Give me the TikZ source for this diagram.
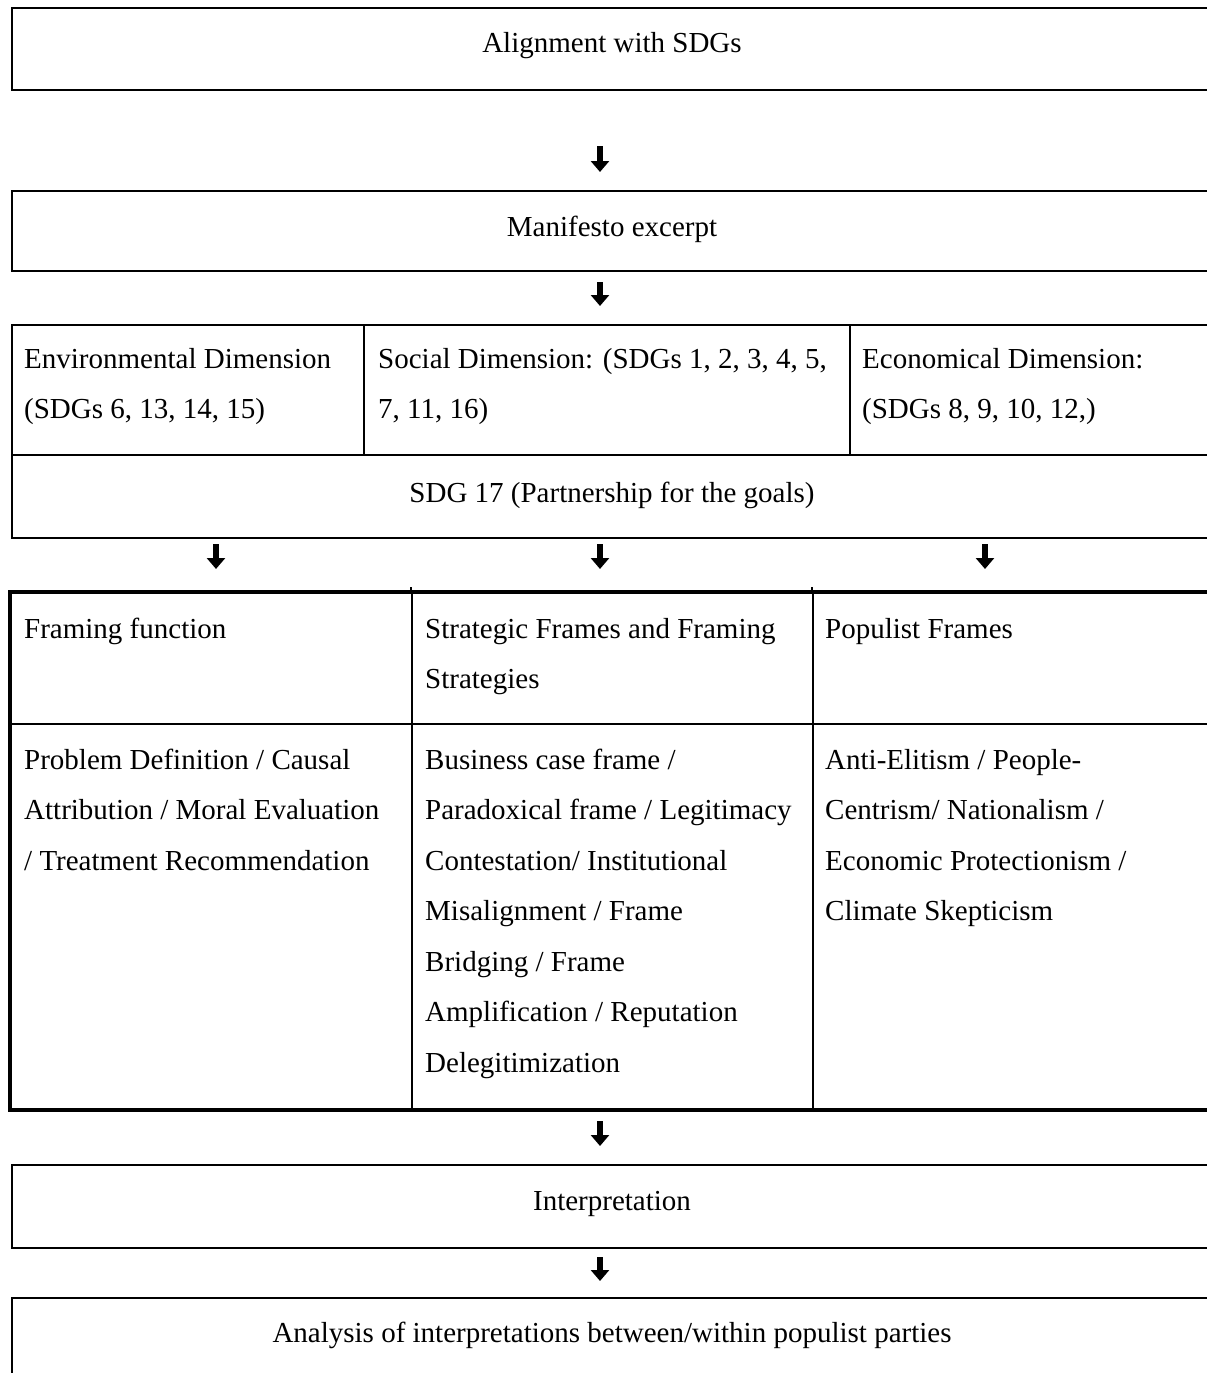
\documentclass[tikz,border=0pt]{standalone}
\usepackage{fontspec}
\setmainfont{Liberation Serif}
\usetikzlibrary{arrows.meta}
\newcommand\mycell[1]{\parbox[t]{800pt}{\raggedright #1}}
\begin{document}
\begin{tikzpicture}[x=1pt,y=-1pt,
  font=\fontsize{29}{50.5}\selectfont,
  box/.style={draw, line width=2pt, inner sep=0pt, anchor=north west},
  ctext/.style={anchor=base, inner sep=0pt},
  ltext/.style={anchor=base west, inner sep=0pt},
  arr/.style={line width=5.5pt, -{Triangle[width=18pt,length=11pt]}},
  thickframe/.style={line width=4.5pt},
  thin/.style={line width=2pt}
]
\useasboundingbox (0,0) rectangle (1207,1373);
\clip (0,0) rectangle (1207,1373);

% top boxes
\node[box, minimum width=1203pt, minimum height=82pt] (align) at (11,7) {};
\node[ctext] (alignT) at (612,52) {Alignment with SDGs};

\node[box, minimum width=1203pt, minimum height=80pt] (manif) at (11,190) {};
\node[ctext] (manifT) at (612,236) {Manifesto excerpt};

% dimensions
\node[box, minimum width=352pt, minimum height=130pt] (env) at (11,324) {};
\node[box, minimum width=486pt, minimum height=130pt] (soc) at (363,324) {};
\node[box, minimum width=365pt, minimum height=130pt] (eco) at (849,324) {};
\node[box, minimum width=1203pt, minimum height=83pt] (sdg) at (11,454) {};
\node[ltext] (envT) at (24,368) {\mycell{Environmental Dimension\\(SDGs 6, 13, 14, 15)}};
\node[ltext] (socT) at (378,368) {\mycell{Social Dimension: (SDGs 1, 2, 3, 4, 5,\\7, 11, 16)}};
\node[ltext] (ecoT) at (862,368) {\mycell{Economical Dimension:\\(SDGs 8, 9, 10, 12,)}};
\node[ctext] (sdgT) at (612,502) {SDG 17 (Partnership for the goals)};

% table
\node[box, minimum width=401pt, minimum height=131pt] (h1) at (10,592) {};
\node[box, minimum width=401pt, minimum height=131pt] (h2) at (411,592) {};
\node[box, minimum width=402pt, minimum height=131pt] (h3) at (812,592) {};
\node[box, minimum width=401pt, minimum height=385pt] (b1) at (10,723) {};
\node[box, minimum width=401pt, minimum height=385pt] (b2) at (411,723) {};
\node[box, minimum width=402pt, minimum height=385pt] (b3) at (812,723) {};
\draw[thickframe] (h1.north west) rectangle (b3.south east);
\draw[thin] (h2.north west) ++(0,-5) -- (h2.north west);
\draw[thin] (h3.north west) ++(0,-5) -- (h3.north west);

\node[ltext] (h1T) at (24,638) {\mycell{Framing function}};
\node[ltext] (h2T) at (425,638) {\mycell{Strategic Frames and Framing\\Strategies}};
\node[ltext] (h3T) at (825,638) {\mycell{Populist Frames}};
\node[ltext] (b1T) at (24,769) {\mycell{Problem Definition / Causal\\Attribution / Moral Evaluation\\/ Treatment Recommendation}};
\node[ltext] (b2T) at (425,769) {\mycell{Business case frame /\\Paradoxical frame / Legitimacy\\Contestation/ Institutional\\Misalignment / Frame\\Bridging / Frame\\Amplification / Reputation\\Delegitimization}};
\node[ltext] (b3T) at (825,769) {\mycell{Anti-Elitism / People-\\Centrism/ Nationalism /\\Economic Protectionism /\\Climate Skepticism}};

% bottom boxes
\node[box, minimum width=1203pt, minimum height=83pt] (interp) at (11,1164) {};
\node[ctext] (interpT) at (612,1210) {Interpretation};
\node[box, minimum width=1203pt, minimum height=120pt] (anal) at (11,1297) {};
\node[ctext] (analT) at (612,1342) {Analysis of interpretations between/within populist parties};

% arrows
\coordinate (a1s) at (600,146); \coordinate (a1e) at (600,172);
\coordinate (a2s) at (600,282); \coordinate (a2e) at (600,306);
\coordinate (a3s) at (216,544); \coordinate (a3e) at (216,569);
\coordinate (a4s) at (600,544); \coordinate (a4e) at (600,569);
\coordinate (a5s) at (985,544); \coordinate (a5e) at (985,569);
\coordinate (a6s) at (600,1121); \coordinate (a6e) at (600,1146);
\coordinate (a7s) at (600,1257); \coordinate (a7e) at (600,1281);
\foreach \i in {1,...,7} \draw[arr] (a\i s) -- (a\i e);
\end{tikzpicture}
\end{document}
